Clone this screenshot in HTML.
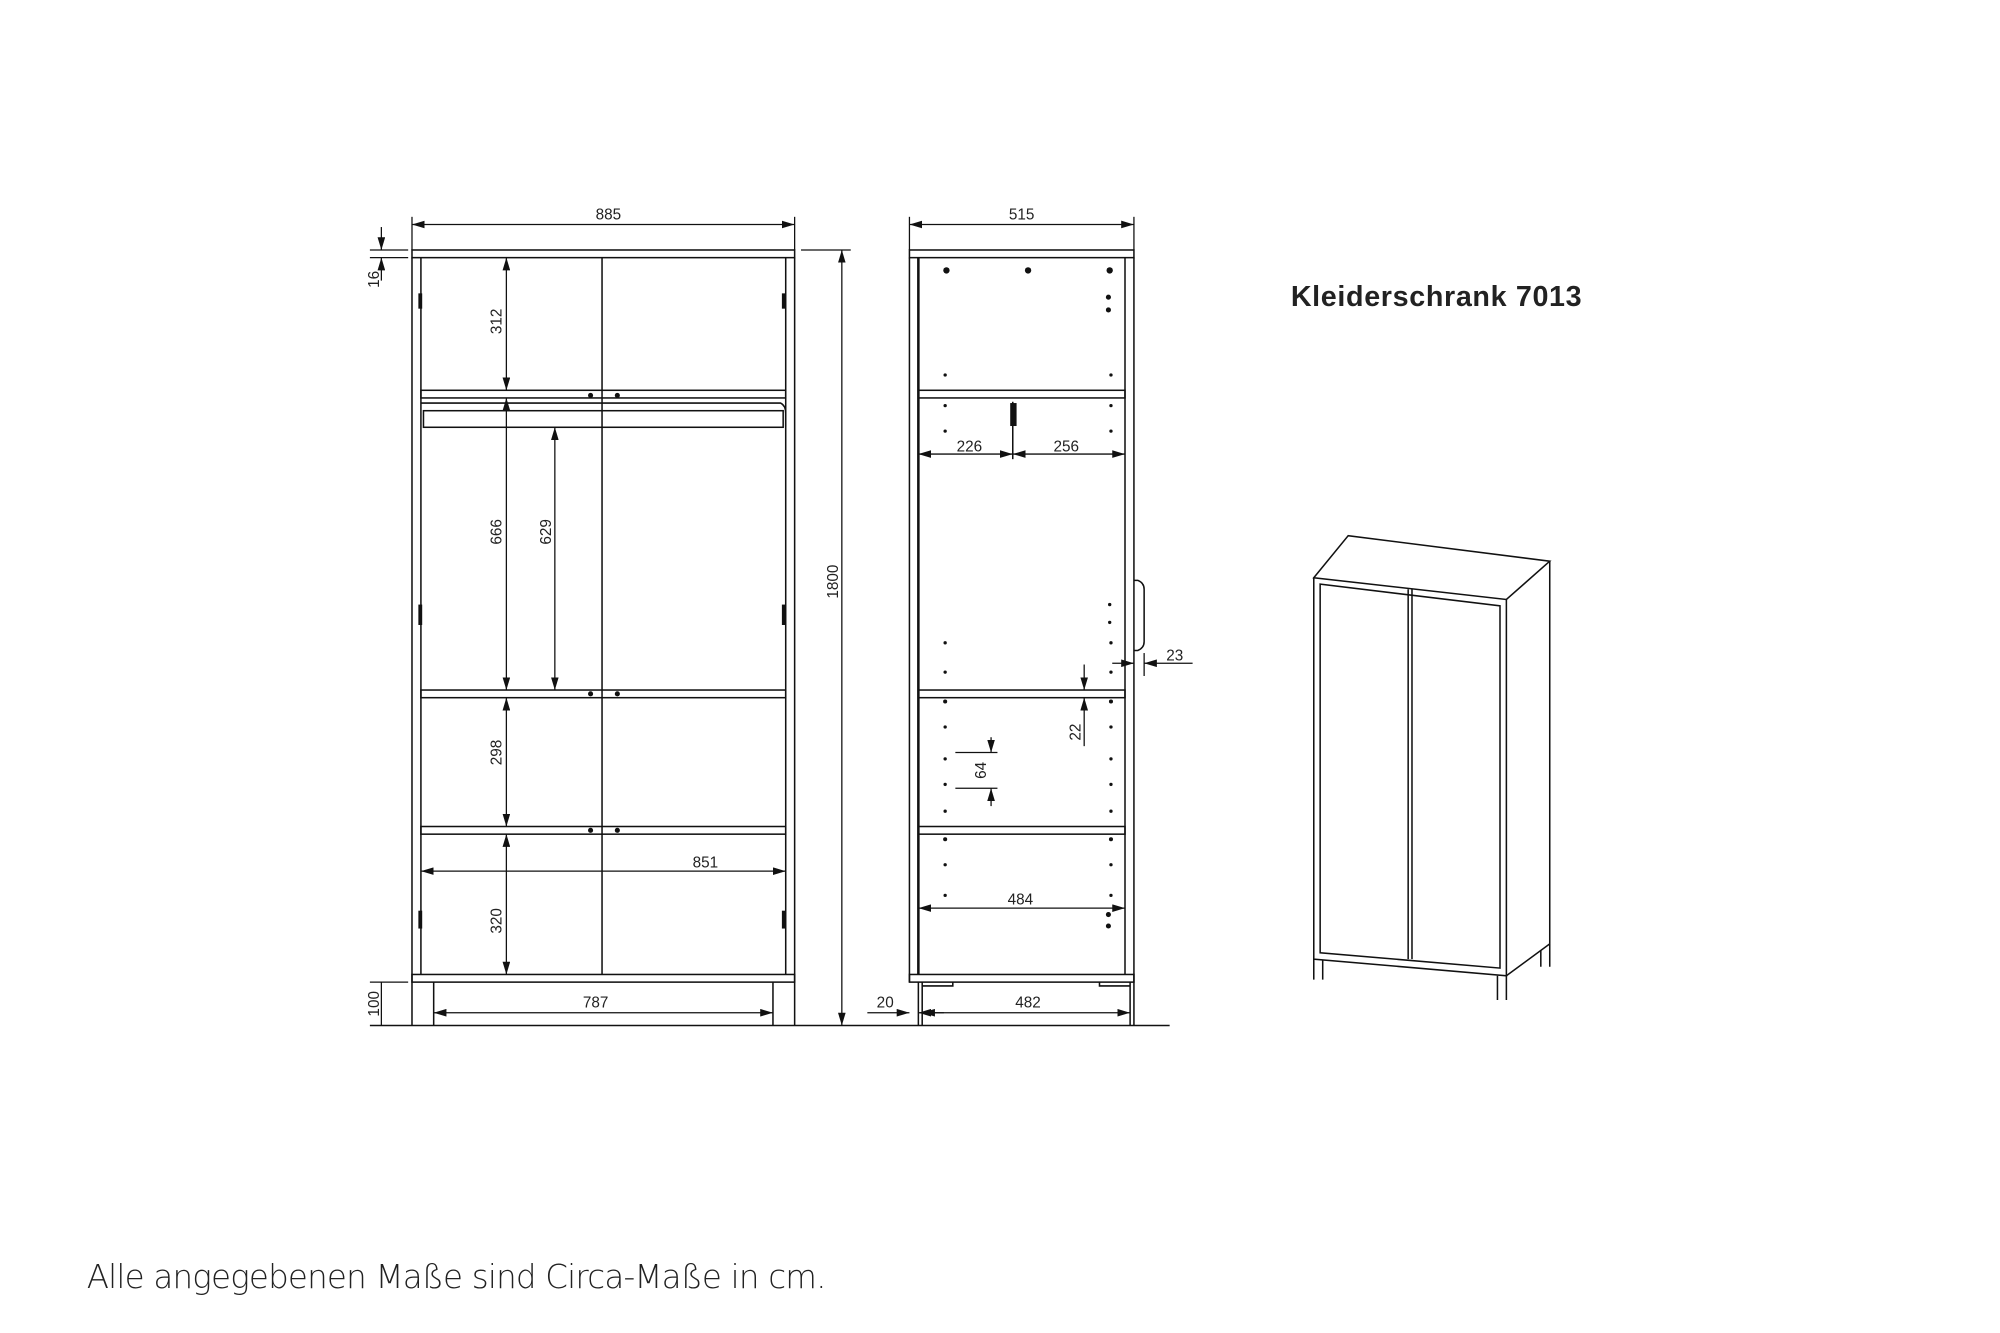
<!DOCTYPE html>
<html><head><meta charset="utf-8"><style>
html,body{margin:0;padding:0;background:#fff;}
svg{display:block;}
text{font-family:"Liberation Sans",sans-serif;fill:#222;}
</style></head><body>
<svg width="2000" height="1333" viewBox="0 0 1568 1045.1" preserveAspectRatio="none" xmlns="http://www.w3.org/2000/svg">
<defs>
<marker id="a" viewBox="0 0 10 6" refX="10" refY="3" markerWidth="10" markerHeight="6" markerUnits="userSpaceOnUse" orient="auto-start-reverse"><path d="M0,0L10,3L0,6z" fill="#111"/></marker>
</defs>
<g stroke="#111" stroke-width="1.2" fill="none">
<rect x="323" y="196" width="300" height="6"/>
<line x1="323" y1="202" x2="323" y2="770"/><line x1="330" y1="202" x2="330" y2="764"/>
<line x1="623" y1="202" x2="623" y2="770"/><line x1="616" y1="202" x2="616" y2="764"/>
<rect x="330" y="306" width="286" height="6"/>
<rect x="330" y="541" width="286" height="6"/>
<rect x="330" y="648" width="286" height="6"/>
<rect x="323" y="764" width="300" height="6"/>
<line x1="472" y1="202" x2="472" y2="764"/>
<rect x="332" y="322" width="282" height="13"/>
<path d="M330,316 H612 Q616,318 616,324 V335"/>
<line x1="323" y1="770" x2="323" y2="804"/><line x1="340" y1="770" x2="340" y2="804"/>
<line x1="606" y1="770" x2="606" y2="804"/><line x1="623" y1="770" x2="623" y2="804"/>
<line x1="290" y1="804" x2="917" y2="804"/>
<rect x="713" y="196" width="176" height="6"/>
<line x1="713" y1="202" x2="713" y2="770"/><line x1="720" y1="202" x2="720" y2="764" stroke-width="2"/>
<line x1="882" y1="202" x2="882" y2="764"/><line x1="889" y1="202" x2="889" y2="770"/>
<rect x="720" y="306" width="162" height="6"/>
<rect x="720" y="541" width="162" height="6"/>
<rect x="720" y="648" width="162" height="6"/>
<rect x="713" y="764" width="176" height="6"/>
<line x1="720" y1="770" x2="720" y2="804"/><line x1="723" y1="770" x2="723" y2="804"/>
<line x1="886" y1="770" x2="886" y2="804"/><line x1="889" y1="770" x2="889" y2="804"/>
<path d="M723,773 H747 V770 M886,773 H862 V770"/>
<path d="M889,455 H892 Q897,457 897,462 V503 Q897,508 892,510 H889"/>
<line x1="794" y1="315" x2="794" y2="360"/>
<path d="M1030,453 L1057,420 L1215,440 L1181,470 Z"/>
<path d="M1030,453 V752 L1181,765 V470"/>
<path d="M1181,765 L1215,740 V440"/>
<path d="M1035,458 V747 L1176,759 V475 Z"/>
<line x1="1104" y1="462" x2="1104" y2="752"/><line x1="1107" y1="462" x2="1107" y2="752"/>
<path d="M1030,752 V768 M1037,753 V768 M1174,765 V784 M1181,765 V784 M1208,745 V758 M1215,740 V758"/>
</g>
<g stroke="#111" stroke-width="1" fill="none" marker-start="url(#a)" marker-end="url(#a)">
<line x1="323" y1="176" x2="623" y2="176"/>
<line x1="397" y1="202" x2="397" y2="306"/>
<line x1="397" y1="312" x2="397" y2="541"/>
<line x1="435" y1="335" x2="435" y2="541"/>
<line x1="397" y1="547" x2="397" y2="648"/>
<line x1="397" y1="654" x2="397" y2="764"/>
<line x1="330" y1="683" x2="616" y2="683"/>
<line x1="340" y1="794" x2="606" y2="794"/>
<line x1="660" y1="196" x2="660" y2="804"/>
<line x1="713" y1="176" x2="889" y2="176"/>
<line x1="720" y1="356" x2="794" y2="356"/>
<line x1="794" y1="356" x2="882" y2="356"/>
<line x1="720" y1="712" x2="882" y2="712"/>
<line x1="723" y1="794" x2="886" y2="794"/>
</g>
<g stroke="#111" stroke-width="1" fill="none">
<line x1="323" y1="170" x2="323" y2="196"/><line x1="623" y1="170" x2="623" y2="196"/>
<line x1="713" y1="170" x2="713" y2="196"/><line x1="889" y1="170" x2="889" y2="196"/>
<line x1="628" y1="196" x2="667" y2="196"/>
<line x1="290" y1="196" x2="320" y2="196"/><line x1="290" y1="202" x2="320" y2="202"/>
<line x1="299" y1="178" x2="299" y2="196" marker-end="url(#a)"/><line x1="299" y1="220" x2="299" y2="202" marker-end="url(#a)"/>
<line x1="290" y1="770" x2="320" y2="770"/>
<line x1="299" y1="770" x2="299" y2="804"/>
<line x1="680" y1="794" x2="713" y2="794" marker-end="url(#a)"/><line x1="740" y1="794" x2="720" y2="794" marker-end="url(#a)"/>
<line x1="872" y1="520" x2="889" y2="520" marker-end="url(#a)"/><line x1="935" y1="520" x2="897" y2="520" marker-end="url(#a)"/>
<line x1="897" y1="512" x2="897" y2="530"/>
<line x1="850" y1="521" x2="850" y2="541" marker-end="url(#a)"/><line x1="850" y1="585" x2="850" y2="547" marker-end="url(#a)"/>
<line x1="777" y1="578" x2="777" y2="590" marker-end="url(#a)"/><line x1="777" y1="632" x2="777" y2="618" marker-end="url(#a)"/>
<line x1="749" y1="590" x2="782" y2="590"/><line x1="749" y1="618" x2="782" y2="618"/>
</g>
<g fill="#111">
<circle cx="463" cy="310" r="2"/><circle cx="484" cy="310" r="2"/>
<circle cx="463" cy="544" r="2"/><circle cx="484" cy="544" r="2"/>
<circle cx="463" cy="651" r="2"/><circle cx="484" cy="651" r="2"/>
<circle cx="742" cy="212" r="2.5"/><circle cx="806" cy="212" r="2.5"/><circle cx="870" cy="212" r="2.5"/>
<circle cx="869" cy="233" r="2"/><circle cx="869" cy="243" r="2"/>
<circle cx="869" cy="717" r="2"/><circle cx="869" cy="726" r="2"/>
<g id="d"><circle cx="741" cy="294" r="1.3"/><circle cx="741" cy="318" r="1.3"/><circle cx="741" cy="338" r="1.3"/><circle cx="741" cy="504" r="1.3"/><circle cx="741" cy="527" r="1.3"/><circle cx="741" cy="550" r="1.6"/><circle cx="741" cy="570" r="1.3"/><circle cx="741" cy="595" r="1.3"/><circle cx="741" cy="615" r="1.3"/><circle cx="741" cy="636" r="1.3"/><circle cx="741" cy="658" r="1.6"/><circle cx="741" cy="678" r="1.3"/><circle cx="741" cy="702" r="1.3"/></g>
<use href="#d" x="130"/>
<circle cx="870" cy="474" r="1.3"/><circle cx="870" cy="488" r="1.3"/>
<rect x="792" y="316" width="5" height="18"/>
<rect x="328" y="230" width="3" height="12"/><rect x="613" y="230" width="3" height="12"/>
<rect x="328" y="474" width="3" height="16"/><rect x="613" y="474" width="3" height="16"/>
<rect x="328" y="714" width="3" height="14"/><rect x="613" y="714" width="3" height="14"/>
</g>
<g font-size="12" text-anchor="middle">
<text x="477" y="172">885</text>
<text x="801" y="172">515</text>
<text transform="translate(297,219) rotate(-90)">16</text>
<text transform="translate(393,252) rotate(-90)">312</text>
<text transform="translate(393,417) rotate(-90)">666</text>
<text transform="translate(432,417) rotate(-90)">629</text>
<text transform="translate(393,590) rotate(-90)">298</text>
<text transform="translate(393,722) rotate(-90)">320</text>
<text transform="translate(297,787) rotate(-90)">100</text>
<text transform="translate(657,456) rotate(-90)">1800</text>
<text x="553" y="680">851</text>
<text x="467" y="790">787</text>
<text x="760" y="354">226</text>
<text x="836" y="354">256</text>
<text x="921" y="518">23</text>
<text transform="translate(847,574) rotate(-90)">22</text>
<text transform="translate(773,604) rotate(-90)">64</text>
<text x="800" y="709">484</text>
<text x="806" y="790">482</text>
<text x="694" y="790">20</text>
</g>
<text x="1012" y="240" font-size="22.5" font-weight="bold" fill="#111" textLength="228">Kleiderschrank 7013</text>
<text x="68" y="1010" font-size="25.5" fill="#333" style="font-family:'DejaVu Sans','Liberation Sans',sans-serif;font-weight:300" textLength="580">Alle angegebenen Maße sind Circa-Maße in cm.</text>
</svg>
</body></html>
